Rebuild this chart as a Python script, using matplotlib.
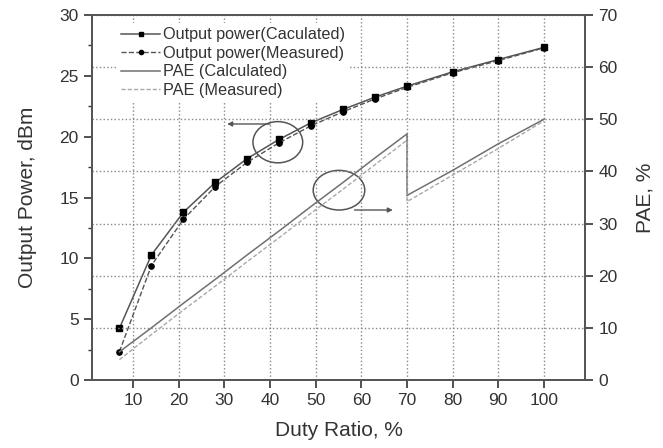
import matplotlib.pyplot as plt
from matplotlib.patches import Ellipse
from matplotlib.ticker import MultipleLocator

plt.rcParams['font.family'] = ['Liberation Sans', 'DejaVu Sans']

duty = [7, 14, 21, 28, 35, 42, 49, 56, 63, 70, 80, 90, 100]
pout_calc = [4.25, 10.27, 13.78, 16.24, 18.2, 19.78, 21.15, 22.24, 23.25, 24.15, 25.33, 26.34, 27.34]
pout_meas = [2.33, 9.4, 13.2, 15.9, 17.9, 19.5, 20.9, 22.05, 23.1, 24.05, 25.25, 26.25, 27.3]

duty_pae = [7, 14, 21, 28, 35, 42, 49, 56, 63, 70, 70, 80, 90, 100]
pae_calc = [5.4, 10.0, 14.7, 19.3, 24.0, 28.6, 33.3, 37.9, 42.6, 47.2, 35.4, 40.2, 45.3, 50.0]
pae_meas = [3.9, 8.7, 13.4, 18.0, 22.7, 27.3, 32.0, 36.6, 41.3, 46.0, 34.2, 39.3, 44.4, 49.7]

fig = plt.figure(figsize=(6.63, 4.48), dpi=100)
ax = fig.add_axes([0.1388, 0.1518, 0.7436, 0.8147])
ax2 = ax.twinx()

l1, = ax.plot(duty, pout_calc, '-', color='#555555', lw=1.1, marker='s', ms=3.8,
              mfc='black', mec='black', label='Output power(Caculated)')
l2, = ax.plot(duty, pout_meas, '--', color='#555555', lw=1.0, marker='o', ms=3.8,
              mfc='black', mec='black', label='Output power(Measured)')
l3, = ax2.plot(duty_pae, pae_calc, '-', color='#707070', lw=1.1, label='PAE (Calculated)')
l4, = ax2.plot(duty_pae, pae_meas, '--', color='#a8a8a8', lw=1.0, dashes=(3, 1.5),
               label='PAE (Measured)')

ax.set_xlim(1, 109)
ax.set_ylim(0, 30)
ax2.set_ylim(0, 70)
ax.set_xticks(range(10, 101, 10))
ax.yaxis.set_major_locator(MultipleLocator(5))
ax.yaxis.set_minor_locator(MultipleLocator(2.5))
ax2.yaxis.set_major_locator(MultipleLocator(10))

ax.grid(axis='x', linestyle=':', color='#888888', lw=1.0)
ax2.grid(axis='y', linestyle=':', color='#888888', lw=1.0)

for a in (ax, ax2):
    a.tick_params(direction='out', length=6, width=1.2, labelsize=12.5, colors='#333333')
    a.tick_params(which='minor', direction='out', length=3, width=1.0, colors='#333333')
    for s in a.spines.values():
        s.set_linewidth(1.3)
        s.set_color('#555555')

ax.set_xlabel('Duty Ratio, %', fontsize=15, color='#333333', labelpad=9)
ax.set_ylabel('Output Power, dBm', fontsize=15, color='#333333', labelpad=16)
ax2.set_ylabel('PAE, %', fontsize=15, color='#333333', labelpad=13)

# annotation ellipses and arrows
ax2.add_patch(Ellipse((41.7, 45.6), 10.9, 7.9, transform=ax2.transData,
                      fill=False, edgecolor='#555555', lw=1.1))
ax2.add_patch(Ellipse((55.1, 36.4), 11.3, 7.6, transform=ax2.transData,
                      fill=False, edgecolor='#555555', lw=1.1))
ax2.annotate('', xy=(30.0, 49.1), xytext=(40.6, 49.1),
             arrowprops=dict(arrowstyle='-|>', color='#555555', lw=1.0, mutation_scale=7))
ax2.annotate('', xy=(67.5, 32.6), xytext=(57.9, 32.6),
             arrowprops=dict(arrowstyle='-|>', color='#555555', lw=1.0, mutation_scale=7))

leg = ax2.legend(handles=[l1, l2, l3, l4], loc='upper left', bbox_to_anchor=(0.035, 1.0),
                 fontsize=11.7, frameon=True, facecolor='white', edgecolor='none',
                 framealpha=1.0, handlelength=2.4, handletextpad=0.15, labelspacing=0.22,
                 borderpad=0.25, fancybox=False, markerscale=0.8)
for t in leg.get_texts():
    t.set_color('#333333')

fig.savefig('out.png', dpi=100)
